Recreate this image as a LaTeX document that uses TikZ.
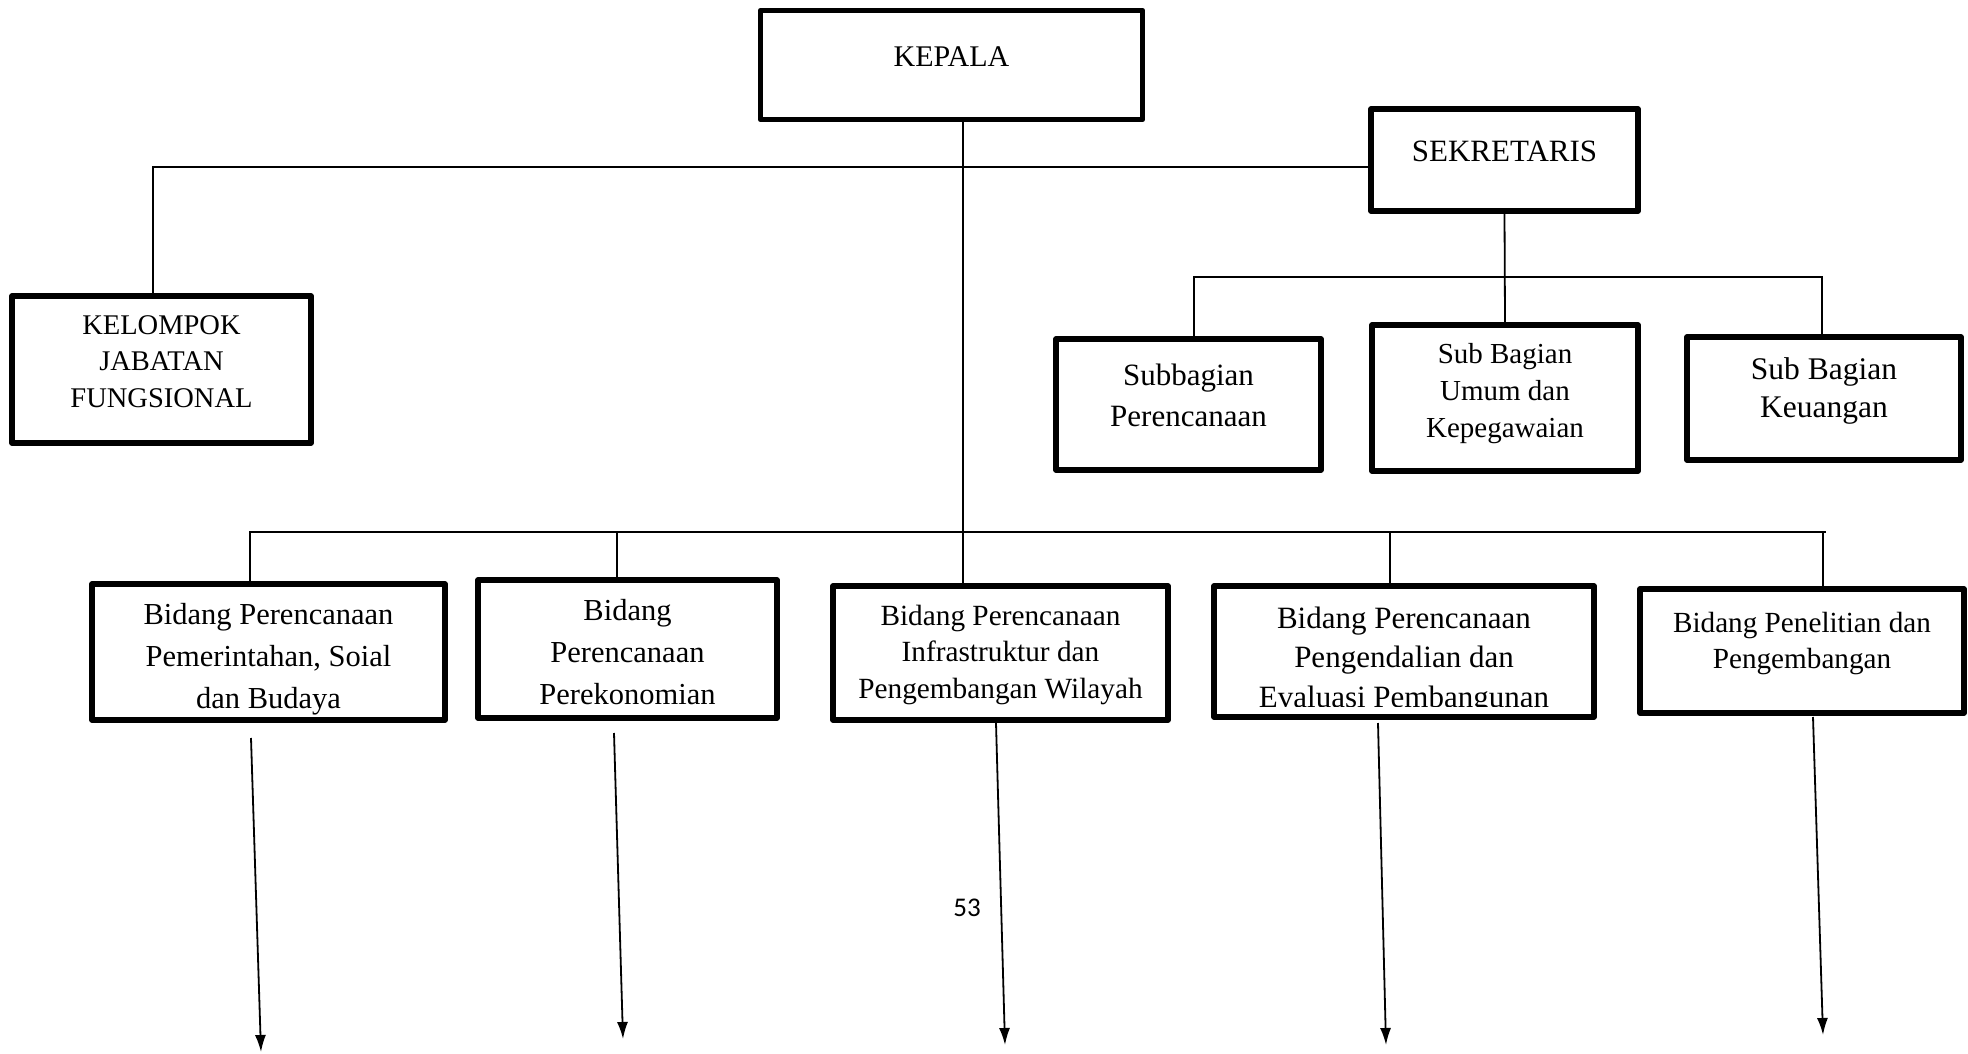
\documentclass[tikz,border=0pt]{standalone}
\usepackage{fontspec}
\setmainfont{Liberation Serif}
\newfontfamily\pagenumfont{Carlito}
\usetikzlibrary{arrows.meta}
\newcommand\boxlines[2]{\raisebox{#1}[0pt][0pt]{\begin{tabular}{@{}c@{}}#2\end{tabular}}}
\tikzset{
  orgbox/.style={draw=black, line width=5.5pt, line join=round, inner sep=0pt},
  conn/.style={line width=1.8pt},
  arr/.style={line width=1.8pt, -{Latex[length=17pt,width=11pt]}},
}
\begin{document}
\begin{tikzpicture}[x=1pt,y=-1pt]
\useasboundingbox (0,0) rectangle (1968,1054);

% top level
\node[orgbox, minimum width=382pt, minimum height=109pt, font=\fontsize{30}{36}\selectfont] (kepala) at (951.5,65) {\boxlines{-1pt}{KEPALA}};
\node[orgbox, minimum width=267pt, minimum height=102pt, font=\fontsize{31}{37}\selectfont] (sek) at (1504.5,160) {\boxlines{-0.25pt}{SEKRETARIS}};
\node[orgbox, minimum width=299pt, minimum height=147pt, font=\fontsize{28.5}{36.5}\selectfont] (kjf) at (161.5,369.5) {\boxlines{-0.1pt}{KELOMPOK\\JABATAN\\FUNGSIONAL}};

% sub bagian
\node[orgbox, minimum width=265pt, minimum height=131pt, font=\fontsize{31}{41.5}\selectfont] (s1) at (1188.5,404.5) {\boxlines{0.75pt}{Subbagian\\Perencanaan}};
\node[orgbox, minimum width=266pt, minimum height=146pt, font=\fontsize{29}{36.7}\selectfont] (s2) at (1505,398) {\boxlines{-1.4pt}{Sub Bagian\\Umum dan\\Kepegawaian}};
\node[orgbox, minimum width=274pt, minimum height=123pt, font=\fontsize{31.5}{38}\selectfont] (s3) at (1824,398.5) {\boxlines{1.2pt}{Sub Bagian\\Keuangan}};

% bidang
\node[orgbox, minimum width=353pt, minimum height=136pt, font=\fontsize{30.5}{42}\selectfont] (b1) at (268.5,652) {\boxlines{-12.5pt}{Bidang Perencanaan\\Pemerintahan, Soial\\dan Budaya}};
\node[orgbox, minimum width=299pt, minimum height=138pt, font=\fontsize{30.5}{42}\selectfont] (b2) at (627.5,649) {\boxlines{-11.6pt}{Bidang\\Perencanaan\\Perekonomian}};
\node[orgbox, minimum width=335pt, minimum height=134pt, font=\fontsize{29.3}{36.25}\selectfont] (b3) at (1000.5,653) {\boxlines{-7.85pt}{Bidang Perencanaan\\Infrastruktur dan\\Pengembangan Wilayah}};
\node[orgbox, minimum width=380pt, minimum height=131pt] (b4) at (1404,651.5) {};
\begin{scope}
  \clip (1214,586) rectangle (1594,706);
  \node[inner sep=0pt, font=\fontsize{31}{39.5}\selectfont] (b4t) at (1404,651.5) {\boxlines{-14.75pt}{Bidang Perencanaan\\Pengendalian dan\\Evaluasi Pembangunan}};
\end{scope}
\node[orgbox, minimum width=324pt, minimum height=124pt, font=\fontsize{29.2}{36}\selectfont] (b5) at (1802,651) {\boxlines{1.7pt}{Bidang Penelitian dan\\Pengembangan}};

% connectors: top
\coordinate (kx) at (963,0);
\coordinate (tl) at (153,167);
\draw[conn] (kepala.south -| kx) -- (b3.north -| kx);
\draw[conn] (kjf.north -| tl) -- (tl) -- (tl -| sek.west);

% sekretaris bus
\coordinate (sl) at (1194,277);
\coordinate (sr) at (1822,277);
\draw[conn] (sek.south) -- (s2.north);
\draw[conn] (s1.north -| sl) -- (sl) -- (sr) -- (s3.north -| sr);

% bidang bus
\coordinate (bl) at (250,532);
\coordinate (br) at (1826,532);
\coordinate (j2) at (617,532);
\coordinate (j4) at (1390,532);
\coordinate (j5) at (1823,532);
\draw[conn] (b1.north -| bl) -- (bl) -- (br);
\draw[conn] (j2) -- (b2.north -| j2);
\draw[conn] (j4) -- (b4.north -| j4);
\draw[conn] (j5) -- (b5.north -| j5);

% arrows
\coordinate (a1s) at (251,738);  \coordinate (a1e) at (261,1052);
\coordinate (a2s) at (614,733);  \coordinate (a2e) at (623,1039);
\coordinate (a3s) at (996,723);  \coordinate (a3e) at (1005,1045);
\coordinate (a4s) at (1378,723); \coordinate (a4e) at (1386,1045);
\coordinate (a5s) at (1813,717); \coordinate (a5e) at (1823,1035);
\draw[arr] (a1s) -- (a1e);
\draw[arr] (a2s) -- (a2e);
\draw[arr] (a3s) -- (a3e);
\draw[arr] (a4s) -- (a4e);
\draw[arr] (a5s) -- (a5e);

\node[inner sep=0pt, font=\fontsize{27}{32}\selectfont\pagenumfont] (pg) at (967,908) {53};
\end{tikzpicture}
\end{document}
